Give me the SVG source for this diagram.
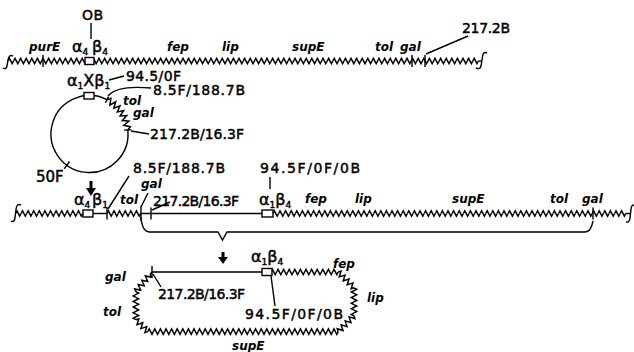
<svg xmlns="http://www.w3.org/2000/svg" xmlns:xlink="http://www.w3.org/1999/xlink" width="634" height="352" viewBox="0 0 634 352">
<style>
.ln{fill:none;stroke:#000;stroke-width:1.4}
.zz{fill:none;stroke:#000;stroke-width:1.5;stroke-linejoin:miter}
.bx{fill:#fff;stroke:#000;stroke-width:1.4}
.t{font-family:"DejaVu Sans","Liberation Sans",sans-serif;font-size:14px;fill:#000;stroke:#000;stroke-width:0.45}
.g{font-family:"DejaVu Sans","Liberation Sans",sans-serif;font-size:12px;font-style:italic;font-weight:bold;fill:#000}
.gr{font-size:16px}
.s{font-size:9px}
.ar{fill:#000}
</style>
<defs>
<path id="z1" class="zz" d="M0,0l1.4-2.7 2.8 5.4 1.4-2.7"/>
<g id="z5"><use href="#z1"/><use href="#z1" x="5.6"/><use href="#z1" x="11.2"/><use href="#z1" x="16.8"/><use href="#z1" x="22.4"/></g>
<g id="z20"><use href="#z5"/><use href="#z5" x="28"/><use href="#z5" x="56"/><use href="#z5" x="84"/></g>
</defs>
<rect width="634" height="352" fill="#fff"/>
<g id="chromosome-top">
<path class="ln" d="M13,56 Q9,54 8,60 L7,66 Q6,70 3,68"/>
<g transform="translate(8,61)">
<use href="#z20"/><use href="#z20" x="112"/><use href="#z20" x="224"/><use href="#z20" x="336"/>
<use href="#z1" x="448"/><use href="#z1" x="453.6"/><use href="#z1" x="459.2"/><use href="#z1" x="464.8"/>
</g>
<path class="ln" d="M478.4,61H482"/>
<path class="ln" d="M487,53 Q483,51 482.5,57 L481,66 Q480,70 476,68"/>
<path class="ln" d="M43,55V67M412,55V67M425,55V67"/>
<rect class="bx" x="85" y="57.5" width="9" height="7"/>
<text class="t" x="82" y="20" textLength="21">OB</text>
<text class="g" x="29" y="51">purE</text>
<text class="t gr" x="72" y="52">α<tspan class="s" dy="3">4</tspan><tspan x="92" dy="-3">β</tspan><tspan class="s" dy="3">4</tspan></text>
<text class="g" x="167" y="51">fep</text>
<text class="g" x="222" y="51">lip</text>
<text class="g" x="292" y="51">supE</text>
<text class="g" x="375" y="51">tol</text>
<text class="g" x="400" y="51">gal</text>
<text class="t" x="462" y="33" textLength="48">217.2B</text>
</g>
<g id="plasmid">
<path class="ln" d="M127.8,130 A38.5,38.5 0 1 1 106.98,99.7"/>
<polyline class="zz" points="106.98,99.7 110.9,98.4 109.9,105 115.7,101.8 113.8,108.2 120,105.9 117.3,111.9 123.7,110.5 120.1,116 126.7,115.6 122.3,120.5 128.9,121 123.9,125.3 130.4,126.7 127.8,130"/>
<path class="ln" d="M105.4,102.8L108.6,96.6M124.3,130.3L131.3,129.6M69.5,161.5L64.2,168.8"/>
<rect class="bx" x="84" y="92.5" width="10" height="6.5"/>
<text class="t gr" x="67" y="86">α<tspan class="s" dy="3">1</tspan><tspan dy="-3">X</tspan><tspan>β</tspan><tspan class="s" dy="3">1</tspan></text>
<text class="t" x="126" y="81" textLength="55">94.5/0F</text>
<text class="t" x="153" y="95" textLength="92">8.5F/188.7B</text>
<text class="g" x="123" y="105">tol</text>
<text class="g" x="133" y="117">gal</text>
<text class="t" x="150" y="139" textLength="94">217.2B/16.3F</text>
<text class="t" x="36" y="182" style="font-size:15px">50F</text>
</g>
<g id="chromosome-integrated">
<path class="ln" d="M21,205 Q17,203 16,209 L15,218 Q14,223 11,221"/>
<g transform="translate(15.5,213.5)">
<use href="#z5"/><use href="#z5" x="28"/><use href="#z1" x="56"/><use href="#z1" x="61.6"/>
</g>
<path class="ln" d="M93,213.5H107"/>
<g transform="translate(107,213.5)">
<use href="#z5"/><use href="#z1" x="28"/>
</g>
<path class="ln" d="M140.6,213.5H262"/>
<g transform="translate(273,213.5)">
<use href="#z20"/><use href="#z20" x="112"/><use href="#z20" x="224"/>
<use href="#z1" x="336"/><use href="#z1" x="341.6"/><use href="#z1" x="347.2"/>
</g>
<path class="ln" d="M625.8,213.5H630"/>
<path class="ln" d="M635,205 Q631.5,204 631,209 L630,218 Q629.5,223 626,222"/>
<path class="ln" d="M107,207.5V219.5M141,206V221M151,207.5V219.5M593,207.5V219.5"/>
<rect class="bx" x="83" y="210" width="10" height="7"/>
<rect class="bx" x="262" y="210" width="11" height="7"/>
<text class="t gr" x="74" y="205">α<tspan class="s" dy="3">4</tspan><tspan x="92" dy="-3">β</tspan><tspan class="s" dy="3">1</tspan></text>
<text class="g" x="120" y="204">tol</text>
<text class="g" x="141" y="188">gal</text>
<text class="t" x="133" y="173" textLength="92">8.5F/188.7B</text>
<text class="t" x="153" y="206" textLength="86">217.2B/16.3F</text>
<text class="t" x="260" y="173" textLength="100">94.5F/0F/0B</text>
<text class="t gr" x="259" y="205">α<tspan class="s" dy="3">1</tspan><tspan dy="-3">β</tspan><tspan class="s" dy="3">4</tspan></text>
<text class="g" x="305" y="203">fep</text>
<text class="g" x="355" y="203">lip</text>
<text class="g" x="452" y="203">supE</text>
<text class="g" x="550" y="203">tol</text>
<text class="g" x="582" y="203">gal</text>
</g>
<g id="excised-circle">
<path class="ln" d="M152,266V278M150.1,274.4L152,272H262"/>
<g transform="translate(271,272)">
<use href="#z5"/><use href="#z5" x="28"/><use href="#z1" x="56"/><use href="#z1" x="61.6"/>
</g>
<g transform="translate(338.2,272) rotate(45)">
<use href="#z1"/><use href="#z1" x="5.6"/><use href="#z1" x="11.2"/><use href="#z1" x="16.8"/>
</g>
<g transform="translate(354,287.8) rotate(90)">
<use href="#z5"/>
</g>
<g transform="translate(354,315.8) rotate(135)">
<use href="#z1"/><use href="#z1" x="5.6"/><use href="#z1" x="11.2"/><use href="#z1" x="16.8"/>
</g>
<g transform="translate(338.2,331.6) rotate(180)">
<use href="#z20"/><use href="#z5" x="112"/><use href="#z5" x="140"/>
<use href="#z1" x="168"/><use href="#z1" x="173.6"/><use href="#z1" x="179.2"/><use href="#z1" x="184.8"/>
</g>
<g transform="translate(147.8,331.6) rotate(225)">
<use href="#z1"/><use href="#z1" x="5.6"/><use href="#z1" x="11.2"/>
</g>
<g transform="translate(135.9,319.7) rotate(270)">
<use href="#z5"/>
</g>
<g transform="translate(135.9,291.7) rotate(-50.7)">
<use href="#z1"/><use href="#z1" x="5.6"/><use href="#z1" x="11.2"/><use href="#z1" x="16.8"/>
</g>
<rect class="bx" x="262" y="268.5" width="10" height="7"/>
<text class="t gr" x="251" y="262">α<tspan class="s" dy="3">1</tspan><tspan dy="-3">β</tspan><tspan class="s" dy="3">4</tspan></text>
<text class="g" x="105" y="281">gal</text>
<text class="g" x="103" y="316">tol</text>
<text class="g" x="333" y="268">fep</text>
<text class="g" x="367" y="302">lip</text>
<text class="g" x="232" y="350">supE</text>
<text class="t" x="158" y="299" textLength="87">217.2B/16.3F</text>
<text class="t" x="245" y="319" textLength="98">94.5F/0F/0B</text>
</g>
<g id="connectors">
<path class="ln" d="M91,23V39"/>
<path class="ln" d="M426,54L468,36"/>
<path class="ln" d="M109,80L124,76"/>
<path class="ln" d="M108,96Q117,85 151,88"/>
<path class="ln" d="M131,131L149,134"/>
<path class="ln" d="M108,209L129,176"/>
<path class="ln" d="M141,207L148,193"/>
<path class="ln" d="M152,210L170,202"/>
<path class="ln" d="M270,177V189"/>
<path class="ln" d="M153,274L161,287"/>
<path class="ln" d="M271,276L275,306"/>
<path class="ln" d="M141,217 Q142,232 150,232 H218 L222.5,240 L227,232 H585 Q591,232 593,221"/>
<polygon class="ar" points="89.5,181 92.5,181 92.5,188 96,188 91,196 86,188 89.5,188"/>
<polygon class="ar" points="221.5,252 224.5,252 224.5,257 228,257 223,264 218,257 221.5,257"/>
</g>
</svg>
